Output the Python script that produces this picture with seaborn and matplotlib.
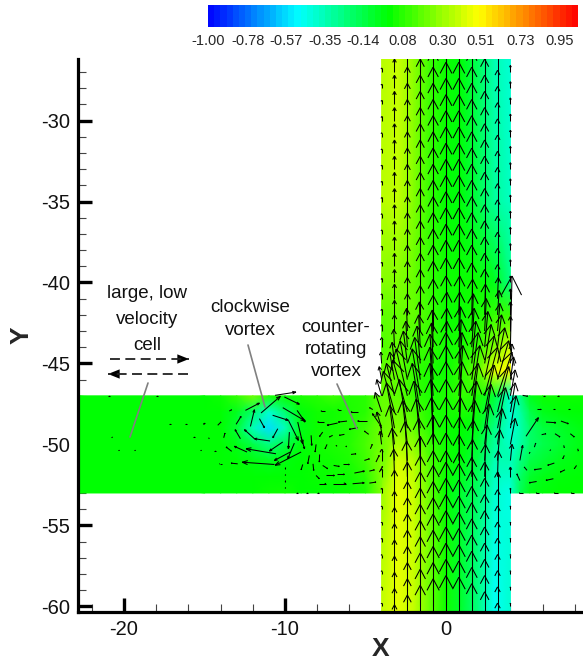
#!/usr/bin/env python3
"""Velocity field at a channel crossing, contour flood with vectors."""
import numpy as np
import pandas as pd
import seaborn as sns
import matplotlib.pyplot as plt
from matplotlib.collections import LineCollection
from matplotlib.colors import LinearSegmentedColormap, Normalize
from matplotlib.lines import Line2D

# contour values
main_x = [-4, -3, -2, -1, 0, 1, 2, 3, 4]
main_y = [-26, -35, -40, -42, -44, -45.5, -47, -49, -51, -53, -56, -60.4]
main_w = [
    [0.36, 0.40, 0.28, 0.12, 0.02, -0.03, -0.18, -0.35, -0.42],
    [0.36, 0.38, 0.25, 0.10, 0.00, -0.03, -0.15, -0.30, -0.38],
    [0.25, 0.25, 0.20, 0.10, 0.03, 0.02, 0.02, -0.05, -0.25],
    [0.18, 0.20, 0.20, 0.12, 0.02, 0.02, 0.05, 0.10, 0.12],
    [0.15, 0.20, 0.12, 0.10, 0.03, 0.05, 0.10, 0.25, 0.40],
    [0.20, 0.20, 0.10, 0.05, 0.02, 0.10, 0.20, 0.45, 0.50],
    [0.20, 0.18, 0.10, 0.05, 0.05, 0.10, 0.05, -0.10, -0.40],
    [0.20, 0.25, 0.20, 0.08, 0.02, 0.00, -0.05, -0.25, -0.42],
    [0.20, 0.42, 0.35, 0.15, 0.03, -0.03, -0.15, -0.35, -0.35],
    [0.30, 0.46, 0.40, 0.20, 0.00, -0.10, -0.20, -0.40, -0.45],
    [0.35, 0.45, 0.40, 0.22, 0.03, -0.10, -0.25, -0.45, -0.42],
    [0.38, 0.45, 0.38, 0.20, 0.02, -0.10, -0.25, -0.48, -0.40],
]
arm_y = [-47, -48, -49, -50, -51, -52, -53]
left_x = [-22.8, -15, -14, -13, -12, -11, -10, -9, -8, -7, -6, -5, -4]
left_w = [
    [0.00, 0.00, 0.02, 0.10, 0.22, 0.06, 0.02, 0.05, 0.08, 0.12, 0.06, 0.08, 0.20],
    [0.00, 0.00, 0.00, -0.06, -0.20, -0.40, -0.22, -0.02, 0.03, 0.03, 0.05, 0.08, 0.20],
    [0.00, 0.00, 0.00, -0.10, -0.36, -0.56, -0.36, -0.04, 0.02, 0.04, 0.06, 0.12, 0.22],
    [0.00, 0.00, 0.00, -0.04, -0.14, -0.25, -0.14, -0.02, 0.03, 0.05, 0.07, 0.14, 0.22],
    [0.00, 0.00, 0.00, 0.00, -0.03, -0.06, -0.03, 0.00, 0.02, 0.03, 0.05, 0.12, 0.25],
    [0.00, 0.00, 0.00, 0.00, 0.00, 0.00, 0.00, 0.00, 0.01, 0.02, 0.03, 0.08, 0.25],
    [0.00, 0.00, 0.00, 0.00, 0.00, 0.02, 0.03, 0.00, 0.00, 0.00, 0.02, 0.05, 0.25],
]
right_x = [4, 4.6, 5.2, 6, 7, 8.7]
right_w = [
    [-0.40, -0.25, -0.05, 0.02, 0.02, 0.02],
    [-0.42, -0.32, -0.15, -0.05, -0.02, 0.00],
    [-0.42, -0.35, -0.20, -0.12, -0.08, -0.02],
    [-0.40, -0.32, -0.20, -0.15, -0.10, -0.02],
    [-0.38, -0.25, -0.14, -0.10, -0.05, -0.01],
    [-0.38, -0.20, -0.08, -0.04, -0.02, 0.00],
    [-0.40, -0.16, -0.05, -0.02, 0.00, 0.00],
]

# vectors in the vertical channel, tails on a grid
col_x = [-4, -3.2, -2.4, -1.6, -0.8, 0, 0.8, 1.6, 2.4, 3.2, 4]
upper_rows = [-27, -28, -29, -30, -31, -32, -33, -34, -35, -36, -37, -38, -39, -40]
upper_v = [0.25, 0.8, 1.3, 1.8, 2.3, 2.6, 2.6, 2.3, 1.8, 1.1, 0.4]
lower_rows = [-54, -55, -56, -57, -58, -59, -60, -61]
lower_v = [0.2, 1.1, 1.7, 2.3, 2.7, 2.9, 2.8, 2.4, 1.9, 1.2, 0.2]
mid_rows = [-41, -42, -43, -44, -45, -46, -47, -48, -49, -50, -51, -52, -53]
mid_v = [
    [0.3, 0.9, 1.3, 1.8, 2.3, 2.5, 2.5, 2.2, 1.8, 1.3, 0.6],
    [0.35, 0.9, 1.3, 1.8, 2.2, 2.4, 2.4, 2.2, 1.9, 1.5, 0.8],
    [0.4, 1.0, 1.4, 1.8, 2.2, 2.4, 2.4, 2.3, 2.0, 1.7, 0.9],
    [0.6, 1.1, 1.6, 2.0, 2.3, 2.4, 2.5, 2.4, 2.2, 2.0, 4.4],
    [0.7, 1.3, 2.0, 2.3, 2.5, 2.6, 2.7, 2.6, 2.4, 2.2, 1.2],
    [0.8, 1.7, 2.4, 2.6, 2.8, 2.9, 2.9, 2.9, 2.7, 2.4, 1.4],
    [1.0, 2.0, 2.9, 2.9, 3.0, 3.1, 3.1, 3.1, 3.0, 2.7, 1.6],
    [1.2, 2.5, 3.2, 3.0, 3.0, 3.1, 3.1, 3.0, 2.9, 2.8, 1.8],
    [1.0, 2.8, 3.0, 2.9, 3.0, 3.0, 3.0, 2.9, 2.7, 2.5, 2.0],
    [0.8, 2.4, 2.7, 2.8, 2.9, 2.9, 2.9, 2.7, 2.5, 2.2, 1.6],
    [0.7, 2.0, 2.4, 2.6, 2.8, 2.8, 2.7, 2.5, 2.2, 1.9, 1.0],
    [0.5, 1.7, 2.2, 2.5, 2.7, 2.7, 2.6, 2.3, 2.0, 1.6, 0.6],
    [0.3, 1.4, 1.9, 2.3, 2.6, 2.6, 2.5, 2.2, 1.9, 1.3, 0.3],
]
mid_u = [
    [0, 0, 0, 0, 0, 0, 0, 0, 0, 0.05, 0],
    [0, 0, 0, 0, 0, 0, 0.05, 0.05, 0.05, 0.1, 0],
    [0, 0, -0.05, -0.05, 0, 0.05, 0.05, 0.1, 0.1, 0.15, 0],
    [0, -0.05, -0.1, -0.1, -0.05, 0.05, 0.1, 0.15, 0.2, 0.25, 0.1],
    [-0.05, -0.15, -0.25, -0.2, -0.1, 0.05, 0.15, 0.25, 0.4, 0.45, 0.1],
    [-0.15, -0.3, -0.45, -0.35, -0.2, 0, 0.2, 0.4, 0.6, 0.7, 0.2],
    [-0.3, -0.5, -0.7, -0.5, -0.2, 0, 0.25, 0.5, 0.8, 0.9, 0.3],
    [-0.4, -0.7, -0.9, -0.5, -0.2, 0, 0.2, 0.4, 0.6, 0.7, 0.3],
    [-0.3, -0.5, -0.5, -0.4, -0.15, 0, 0.15, 0.3, 0.4, 0.5, 0.35],
    [-0.1, -0.3, -0.3, -0.25, -0.1, 0, 0.1, 0.2, 0.3, 0.3, 0.3],
    [0, -0.15, -0.15, -0.1, 0, 0, 0.05, 0.1, 0.15, 0.15, 0.1],
    [0, -0.05, -0.05, 0, 0, 0, 0, 0.05, 0.05, 0.05, 0],
    [0, 0, 0, 0, 0, 0, 0, 0, 0, 0, 0],
]

# vectors in the side arms: tail x, tail y, u, v
arm_vx = [
    -11.49, -10.62, -10.04, -10.14, -9.25, -9.21, -9.0, -10.77, -9.79, -11.59,
    -12.15, -13.04, -10.45, -11.9, -10.93, -12.77, -10.14, -9.73, -9.42, -9.0,
    -9.67, -12.36, -10.56, -13.31, -10.66, -12.94, -13.93, -12.46, -13.46, -13.81,
    -14.18, -15.1, -14.8, -14.39, -20.4, -19.4, -15.3, -17.2, -16.2, -15.1,
    -20.8, -15.7, -21.0, -18.0,
    -7.6, -6.73, -6.15, -4.93, -7.52, -6.52, -5.49, -3.95, -4.14, -4.55,
    -5.49, -6.31, -7.04, -7.66, -4.8, -8.07, -7.39, -6.77, -6.17, -4.7,
    -8.38, -7.85, -8.49, -8.9, -8.26, -7.66, -6.98, -6.42, -5.9, -5.07,
    -4.35, -8.07, -7.45, -6.77, -5.69, -4.76, -4.14, -7.87, -7.04, -5.8,
    -4.76, -9.98, -9.98, -9.98, -9.98, -9.3, -8.7, -8.0,
    4.97, 6.21, 7.14, 5.63, 6.62, 7.56, 5.94, 6.77, 7.72, 5.49,
    5.17, 6.46, 7.31, 8.18, 5.03, 5.94, 6.73, 7.35, 4.59, 5.63,
    6.67, 7.39, 8.11, 4.76, 5.8, 6.93, 7.97, 4.76, 6.0, 6.9, 4.59,
]
arm_vy = [
    -48.06, -46.97, -47.07, -47.73, -47.9, -48.62, -49.55, -48.2, -48.51, -48.41,
    -48.89, -48.76, -49.03, -49.65, -49.79, -49.65, -49.85, -49.24, -49.92, -50.47,
    -50.47, -50.47, -50.58, -50.43, -51.24, -51.2, -51.2, -47.9, -47.94, -49.59,
    -48.82, -48.72, -49.59, -50.41, -50.37, -50.37, -50.37, -48.76, -48.76, -48.7,
    -49.55, -49.55, -47.03, -47.03,
    -48.62, -48.68, -48.56, -48.56, -47.94, -47.85, -48.0, -49.55, -48.72, -47.85,
    -48.97, -49.38, -49.44, -49.24, -49.38, -50.0, -50.0, -50.12, -50.16, -50.27,
    -49.44, -50.62, -50.68, -51.24, -51.2, -51.3, -51.3, -51.24, -50.62, -50.99,
    -51.09, -51.92, -51.92, -51.85, -51.77, -51.65, -51.71, -52.43, -52.43, -52.43,
    -52.39, -51.4, -51.8, -52.2, -52.6, -53.0, -53.0, -53.0,
    -49.5, -48.62, -48.56, -47.84, -47.84, -47.84, -49.4, -49.34, -49.34, -50.17,
    -50.58, -50.27, -50.06, -50.27, -51.6, -51.5, -51.15, -50.68, -52.23, -52.29,
    -52.12, -51.57, -51.3, -53.0, -53.0, -53.0, -53.0, -46.97, -47.03, -47.03, -50.99,
]
arm_vu = [
    1.2, 1.3, 0.93, 1.39, 0.5, 0.31, 0.21, 0.97, 0.62, 0.31,
    0.25, 0.31, -0.31, -0.62, -0.97, -0.33, -0.83, -0.06, -0.41, -1.61,
    -0.99, -0.79, -1.86, -0.35, -2.0, -0.41, -0.14, 0.87, 0.14, 0.08,
    0.2, 0.06, 0.08, 0.08, 0.1, 0.1, 0.1, 0.1, 0.1, 0.1,
    0.08, 0.08, 0.1, 0.1,
    -0.37, -0.66, -0.54, -0.56, -0.25, -0.2, -0.41, -0.14, -0.43, -0.2,
    -0.52, -0.31, -0.2, -0.2, -0.27, -0.06, -0.12, -0.06, -0.05, 0.12,
    0.04, -0.02, -0.1, -0.1, 0.04, 0.31, 0.35, 0.41, 0.31, 0.31,
    0.2, 0.2, 0.52, 0.46, 0.62, 0.31, 0.2, 0.41, 0.83, 0.72,
    0.41, 0.0, 0.0, 0.0, 0.0, 0.1, 0.1, 0.1,
    0.77, 0.62, 0.46, 0.27, 0.14, 0.14, 0.27, 0.31, 0.25, 0.08,
    0.04, 0.0, 0.04, 0.04, -0.17, -0.46, -0.41, -0.1, -0.19, -0.46,
    -0.46, -0.29, -0.14, -0.2, -0.2, -0.2, -0.2, 0.31, 0.15, 0.12, 0.17,
]
arm_vv = [
    1.03, 0.2, -0.45, -0.82, -0.72, -1.34, -0.72, -0.31, -1.24, -0.56,
    1.03, 0.49, -0.56, 0.56, 0.14, 0.56, -0.56, -1.03, -0.97, -0.82,
    -0.52, 0.35, 0.31, 0.27, 0.14, 0.04, 0.0, 0.45, 0.08, 0.29,
    0.2, 0.0, 0.0, 0.0, 0.0, 0.0, 0.0, 0.0, 0.0, 0.0,
    0.0, 0.0, 0.0, 0.0,
    0.0, -0.14, -0.06, 0.0, 0.0, 0.0, 0.0, 0.82, 0.62, 0.12,
    -0.1, -0.06, -0.1, -0.27, 0.2, -0.47, -0.27, 0.06, 0.06, 0.27,
    -0.62, -0.47, -0.52, -0.33, -0.41, -0.2, -0.06, 0.0, 0.04, 0.1,
    0.41, -0.2, 0.0, 0.0, 0.12, 0.08, 0.35, 0.0, 0.0, 0.06,
    0.06, -0.1, -0.1, -0.1, -0.1, 0.0, 0.0, 0.0,
    1.15, -0.04, -0.16, 0.0, 0.0, 0.0, 0.06, -0.2, -0.2, 0.25,
    0.1, -0.1, -0.14, -0.14, 0.2, -0.06, -0.14, -0.2, 0.41, -0.08,
    -0.1, -0.14, -0.2, 0.0, 0.0, 0.0, 0.0, -0.06, 0.0, 0.0, 0.93,
]

cbar_labels = ["-1.00", "-0.78", "-0.57", "-0.35", "-0.14", "0.08", "0.30", "0.51", "0.73", "0.95"]
VMIN, VMAX = -1.0, 1.05


def px(x, y):
    # picture pixels to figure fraction
    return x / 583, 1 - y / 660


def arrow_segments(x, y, u, v, barb=0.3, angle=28):
    # shaft and two open head barbs
    segs = []
    ca, sa = np.cos(np.radians(angle)), np.sin(np.radians(angle))
    for x0, y0, du, dv in zip(x, y, u, v):
        tip = np.array([x0 + du, y0 + dv])
        segs.append([(x0, y0), tuple(tip)])
        bx, by = -du * barb, -dv * barb
        segs.append([tuple(tip), (tip[0] + ca * bx - sa * by, tip[1] + sa * bx + ca * by)])
        segs.append([tuple(tip), (tip[0] + ca * bx + sa * by, tip[1] - sa * bx + ca * by)])
    return segs


def channel_vectors():
    xs, ys, us, vs = [], [], [], []
    for rows, v_rows, u_rows in (
        (upper_rows, [upper_v] * len(upper_rows), None),
        (mid_rows, mid_v, mid_u),
        (lower_rows, [lower_v] * len(lower_rows), None),
    ):
        for i, row in enumerate(rows):
            xs += col_x
            ys += [row] * len(col_x)
            vs += list(v_rows[i])
            us += list(u_rows[i]) if u_rows else [0.0] * len(col_x)
    return xs, ys, us, vs


def leader(fig, start, end):
    x0, y0 = px(*start)
    x1, y1 = px(*end)
    fig.add_artist(Line2D([x0, x1], [y0, y1], color="#808080", lw=1.2, transform=fig.transFigure))


def dashed_arrow(fig, start, end):
    x0, y0 = px(*start)
    x1, y1 = px(*end)
    fig.add_artist(Line2D([x0, x1], [y0, y1], color="#222222", lw=1.3, ls=(0, (5.5, 3)),
                          transform=fig.transFigure))
    step = 10 if end[0] > start[0] else -10
    plt.annotate("", xy=px(*end), xytext=px(end[0] - step, end[1]),
                 xycoords="figure fraction", textcoords="figure fraction",
                 arrowprops=dict(arrowstyle="-|>,head_length=0.7,head_width=0.28",
                                 color="black", lw=0, shrinkA=0, shrinkB=0))


def main():
    sns.set_theme(style="ticks")
    plt.rcParams["font.family"] = ["Liberation Sans", "DejaVu Sans"]
    plt.rcParams["axes.unicode_minus"] = False

    cmap = LinearSegmentedColormap.from_list("rainbow_flood", [
        ((v - VMIN) / (VMAX - VMIN), c) for v, c in [
            (-1.0, "#0000ff"), (-0.5, "#00ffff"), (0.0, "#00ff00"), (0.5, "#ffff00"), (1.05, "#ff0000")]
    ])
    norm = Normalize(VMIN, VMAX)

    fig = plt.figure(figsize=(5.83, 6.6), dpi=100)
    left, top = px(78, 59)
    right, bottom = px(583, 612)
    ax = fig.add_axes([left, bottom, right - left, top - bottom])

    for xs, ys, w in ((main_x, main_y, main_w), (left_x, arm_y, left_w), (right_x, arm_y, right_w)):
        ax.pcolormesh(xs, ys, np.array(w), cmap=cmap, norm=norm, shading="gouraud", zorder=1)

    xs, ys, us, vs = channel_vectors()
    ax.add_collection(LineCollection(arrow_segments(xs, ys, us, vs), colors="black",
                                     linewidths=0.75, zorder=2))
    ax.add_collection(LineCollection(arrow_segments(arm_vx, arm_vy, arm_vu, arm_vv, barb=0.18, angle=20),
                                     colors="black", linewidths=0.75, zorder=2))

    ax.set_xlim(-22.86, 8.51)
    ax.set_ylim(-60.35, -26.2)
    ax.set_xticks([-20, -10, 0])
    ax.set_yticks([-30, -35, -40, -45, -50, -55, -60])
    ax.set_xticks([v for v in range(-22, 10, 2) if v % 10 != 0], minor=True)
    ax.set_yticks([v for v in range(-60, -26) if v % 5 != 0], minor=True)
    ax.tick_params(which="major", direction="in", length=10, width=2.4, color="black",
                   labelsize=14.5, labelcolor="#111111")
    ax.tick_params(axis="y", which="major", pad=6)
    ax.tick_params(axis="x", which="major", pad=6)
    ax.tick_params(which="minor", direction="in", length=6, width=0.8, color="#444444")
    sns.despine(ax=ax)
    for side in ("left", "bottom"):
        ax.spines[side].set_linewidth(2.3)
        ax.spines[side].set_color("black")
    ax.patch.set_alpha(0)
    ax.set_xlabel("")
    ax.set_ylabel("")

    fx, fy = px(381, 649)
    fig.text(fx, fy, "X", fontsize=19, fontweight="bold", ha="center", va="center")
    fx, fy = px(22, 335)
    fig.text(fx, fy, "Y", fontsize=19, fontweight="bold", ha="center", va="center", rotation=90)

    # colour bar as a one row heatmap
    levels = np.linspace(VMIN, VMAX, 61)
    strip = pd.DataFrame([0.5 * (levels[:-1] + levels[1:])])
    bl, bt = px(208, 5)
    br, bb = px(578, 27)
    cax = fig.add_axes([bl, bb, br - bl, bt - bb])
    sns.heatmap(strip, ax=cax, cmap=cmap, norm=norm, cbar=False, xticklabels=False, yticklabels=False)
    tick_vals = [float(t) for t in cbar_labels]
    cax.set_xticks([(t - VMIN) / (VMAX - VMIN) * strip.shape[1] for t in tick_vals])
    cax.set_xticklabels(cbar_labels, rotation=0, fontsize=10.5)
    cax.tick_params(axis="x", length=0, pad=5)
    cax.set_xlabel("")
    cax.set_ylabel("")

    # annotations
    for text, cx, line_y in (
        ("large, low", 147, 293), ("velocity", 147, 319), ("cell", 147, 345),
        ("clockwise", 250, 308), ("vortex", 250, 331),
        ("counter-", 336, 327), ("rotating", 336, 350), ("vortex", 336, 372),
    ):
        fx, fy = px(cx, line_y)
        fig.text(fx, fy, text, fontsize=13.5, ha="center", va="center", color="#111111")

    leader(fig, (148, 383), (130, 437))
    leader(fig, (248, 345), (265, 407))
    leader(fig, (337, 384), (357, 429))
    dashed_arrow(fig, (110, 359), (189, 359))
    dashed_arrow(fig, (188, 374), (108, 374))

    fig.savefig("out.png", dpi=100)
    plt.close(fig)


if __name__ == "__main__":
    main()
